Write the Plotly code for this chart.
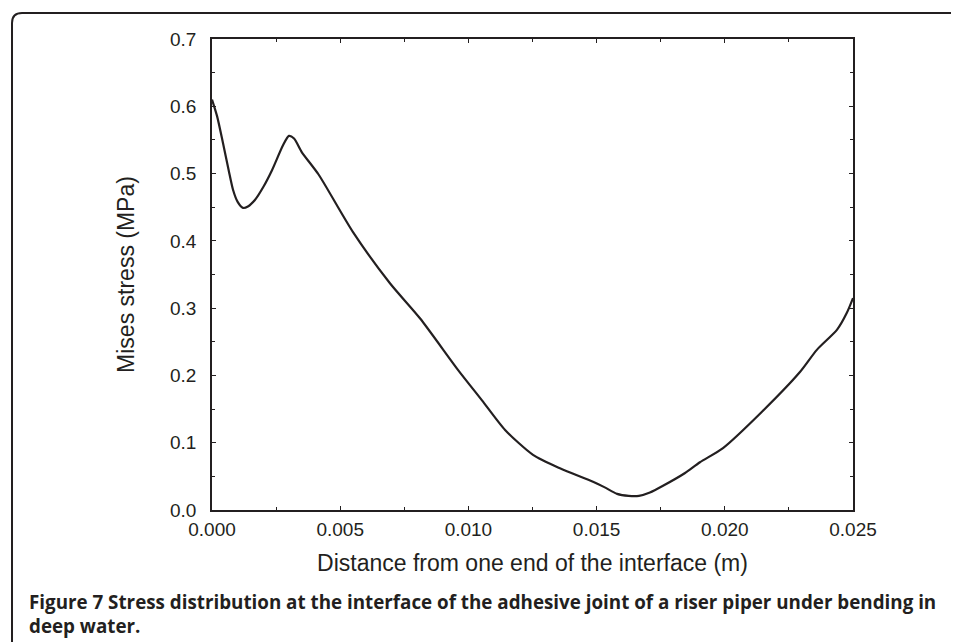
import plotly.graph_objects as go

# Data
distance_m = [0.0000, 0.0002, 0.00043, 0.00065, 0.00082, 0.0010, 0.00121, 0.0014,
              0.00168, 0.0020, 0.00234, 0.00277, 0.0030, 0.0032, 0.0035, 0.00415,
              0.0055, 0.00694, 0.00811, 0.0096, 0.01053, 0.01143, 0.01252, 0.01357,
              0.01486, 0.0153, 0.0158, 0.01625, 0.01665, 0.01708, 0.01759, 0.01845,
              0.01903, 0.01993, 0.02145, 0.02293, 0.02359, 0.02438, 0.02476, 0.0250]
mises_stress_mpa = [0.610, 0.585, 0.545, 0.505, 0.476, 0.458, 0.449, 0.451,
                    0.461, 0.480, 0.505, 0.542, 0.556, 0.552, 0.532, 0.499,
                    0.413, 0.337, 0.285, 0.208, 0.163, 0.119, 0.082, 0.062,
                    0.042, 0.034, 0.024, 0.021, 0.021, 0.026, 0.036, 0.055,
                    0.071, 0.092, 0.146, 0.205, 0.238, 0.268, 0.293, 0.315]

x_tickvals = [0.000, 0.005, 0.010, 0.015, 0.020, 0.025]
x_ticktext = ["0.000", "0.005", "0.010", "0.015", "0.020", "0.025"]
y_tickvals = [0.0, 0.1, 0.2, 0.3, 0.4, 0.5, 0.6, 0.7]
y_ticktext = ["0.0", "0.1", "0.2", "0.3", "0.4", "0.5", "0.6", "0.7"]

x_title = "Distance from one end of the interface (m)"
y_title = "Mises stress (MPa)"
caption = ("<b>Figure 7 Stress distribution at the interface of the adhesive joint of a riser piper under bending in"
           "<br>deep water.</b>")

ink = "#231f20"
sans = "Liberation Sans, Arial, sans-serif"

fig = go.Figure()
fig.add_trace(go.Scatter(
    x=distance_m, y=mises_stress_mpa, mode="lines",
    line=dict(color=ink, width=2.2, shape="spline", smoothing=0.7),
    showlegend=False, hoverinfo="skip"))

axis_font = dict(family=sans, size=19, color=ink)

# the page body has an 8px default margin; margins are set so the plot area
# lands at x 212-853, y 39-510 in the window
fig.update_layout(
    width=959, height=642,
    margin=dict(l=204, r=114, t=31, b=140),
    paper_bgcolor="white", plot_bgcolor="white",
    font=axis_font,
    xaxis=dict(range=[0, 0.025], tickvals=x_tickvals, ticktext=x_ticktext,
               ticks="inside", ticklen=4, tickcolor=ink, tickwidth=1,
               minor=dict(dtick=0.0025, ticks="inside", ticklen=3, tickcolor=ink),
               showline=True, linecolor=ink, linewidth=1.6, mirror="ticks",
               showgrid=False, zeroline=False, tickfont=axis_font,
               ticklabelstandoff=1,
               title=dict(text=x_title, font=dict(family=sans, size=23, color=ink), standoff=16)),
    yaxis=dict(range=[0, 0.7], tickvals=y_tickvals, ticktext=y_ticktext,
               ticks="inside", ticklen=4, tickcolor=ink, tickwidth=1,
               minor=dict(dtick=0.05, ticks="inside", ticklen=3, tickcolor=ink),
               showline=True, linecolor=ink, linewidth=1.6, mirror="ticks",
               showgrid=False, zeroline=False, tickfont=axis_font,
               ticklabelstandoff=10,
               title=dict(text=y_title, font=dict(family=sans, size=23, color=ink), standoff=29)),
)

# rounded frame (open at right and bottom), in paper coordinates
fig.add_shape(type="path", xref="paper", yref="paper",
              path="M -0.312,-0.32 L -0.312,1.034 Q -0.312,1.0552 -0.2964,1.0552 L 1.20,1.0552",
              line=dict(color=ink, width=2), fillcolor="rgba(0,0,0,0)")

fig.add_annotation(text=caption, xref="paper", yref="paper",
                   x=-0.288, y=-0.163, xanchor="left", yanchor="top", align="left",
                   showarrow=False,
                   font=dict(family="Open Sans, Noto Sans, sans-serif", size=18.8, color=ink))

fig.write_html("out.html")
